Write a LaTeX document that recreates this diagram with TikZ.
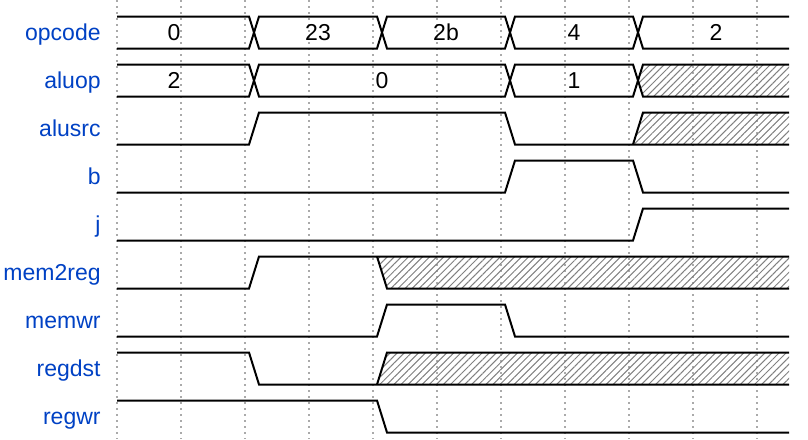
\documentclass[tikz,border=0pt]{standalone}
\usepackage{fontspec}
\setmainfont{Liberation Sans}
\usetikzlibrary{patterns.meta}
\definecolor{wdblue}{HTML}{0041C4}
\definecolor{wdgrid}{HTML}{AAAAAA}
\begin{document}
\begin{tikzpicture}[x=0.5pt,y=-0.5pt,sig/.style={line width=1pt,line join=miter},grid/.style={wdgrid,line width=0.6pt,dash pattern=on 0.8pt off 2.2pt},lbl/.style={anchor=base east,inner sep=0pt,wdblue,font=\fontsize{11.5}{14}\selectfont},val/.style={anchor=base,inner sep=0pt,font=\fontsize{11.5}{14}\selectfont},hatch/.style={pattern={Lines[angle=45,distance=2.5pt,line width=0.5pt]},pattern color=gray}]
\useasboundingbox (0,0) rectangle (808,439);

\draw[grid] (117,0) -- (117,439);
\draw[grid] (181,0) -- (181,439);
\draw[grid] (245,0) -- (245,439);
\draw[grid] (309,0) -- (309,439);
\draw[grid] (373,0) -- (373,439);
\draw[grid] (437,0) -- (437,439);
\draw[grid] (501,0) -- (501,439);
\draw[grid] (565,0) -- (565,439);
\draw[grid] (629,0) -- (629,439);
\draw[grid] (693,0) -- (693,439);
\draw[grid] (757,0) -- (757,439);

% opcode
\node[lbl] (Lop) at (101,40.5) {opcode};
\draw[sig] (117,16.5) -- (249,16.5) -- (259,48.5) -- (377,48.5) -- (387,16.5) -- (505,16.5) -- (515,48.5) -- (633,48.5) -- (643,16.5) -- (789,16.5);
\draw[sig] (117,48.5) -- (249,48.5) -- (259,16.5) -- (377,16.5) -- (387,48.5) -- (505,48.5) -- (515,16.5) -- (633,16.5) -- (643,48.5) -- (789,48.5);
\node[val] (Op0) at (174,40.5) {0};
\node[val] (Op1) at (318,40.5) {23};
\node[val] (Op2) at (446,40.5) {2b};
\node[val] (Op3) at (574,40.5) {4};
\node[val] (Op4) at (716,40.5) {2};

% aluop
\node[lbl] (Lalu) at (101,88.5) {aluop};
\fill[hatch] (638,80.5) -- (643,64.5) -- (789,64.5) -- (789,96.5) -- (643,96.5) -- cycle;
\draw[sig] (117,64.5) -- (249,64.5) -- (259,96.5) -- (505,96.5) -- (515,64.5) -- (633,64.5) -- (643,96.5) -- (789,96.5);
\draw[sig] (117,96.5) -- (249,96.5) -- (259,64.5) -- (505,64.5) -- (515,96.5) -- (633,96.5) -- (643,64.5) -- (789,64.5);
\node[val] (Alu0) at (174,88.5) {2};
\node[val] (Alu1) at (382,88.5) {0};
\node[val] (Alu2) at (574,88.5) {1};

% alusrc
\node[lbl] (Lsrc) at (101,136.5) {alusrc};
\fill[hatch] (633,144.5) -- (643,112.5) -- (789,112.5) -- (789,144.5) -- cycle;
\draw[sig] (117,144.5) -- (249,144.5) -- (259,112.5) -- (505,112.5) -- (515,144.5) -- (789,144.5);
\draw[sig] (633,144.5) -- (643,112.5) -- (789,112.5);

% b
\node[lbl] (Lb) at (101,184.5) {b};
\draw[sig] (117,192.5) -- (505,192.5) -- (515,160.5) -- (633,160.5) -- (643,192.5) -- (789,192.5);

% j
\node[lbl] (Lj) at (101,232.5) {j};
\draw[sig] (117,240.5) -- (633,240.5) -- (643,208.5) -- (789,208.5);

% mem2reg
\node[lbl] (Lm2r) at (101,280.5) {mem2reg};
\fill[hatch] (377,256.5) -- (387,288.5) -- (789,288.5) -- (789,256.5) -- cycle;
\draw[sig] (117,288.5) -- (249,288.5) -- (259,256.5) -- (789,256.5);
\draw[sig] (377,256.5) -- (387,288.5) -- (789,288.5);

% memwr
\node[lbl] (Lmw) at (101,328.5) {memwr};
\draw[sig] (117,336.5) -- (377,336.5) -- (387,304.5) -- (505,304.5) -- (515,336.5) -- (789,336.5);

% regdst
\node[lbl] (Lrd) at (101,376.5) {regdst};
\fill[hatch] (377,384.5) -- (387,352.5) -- (789,352.5) -- (789,384.5) -- cycle;
\draw[sig] (117,352.5) -- (249,352.5) -- (259,384.5) -- (789,384.5);
\draw[sig] (377,384.5) -- (387,352.5) -- (789,352.5);

% regwr
\node[lbl] (Lrw) at (101,424.5) {regwr};
\draw[sig] (117,400.5) -- (377,400.5) -- (387,432.5) -- (789,432.5);
\end{tikzpicture}
\end{document}
